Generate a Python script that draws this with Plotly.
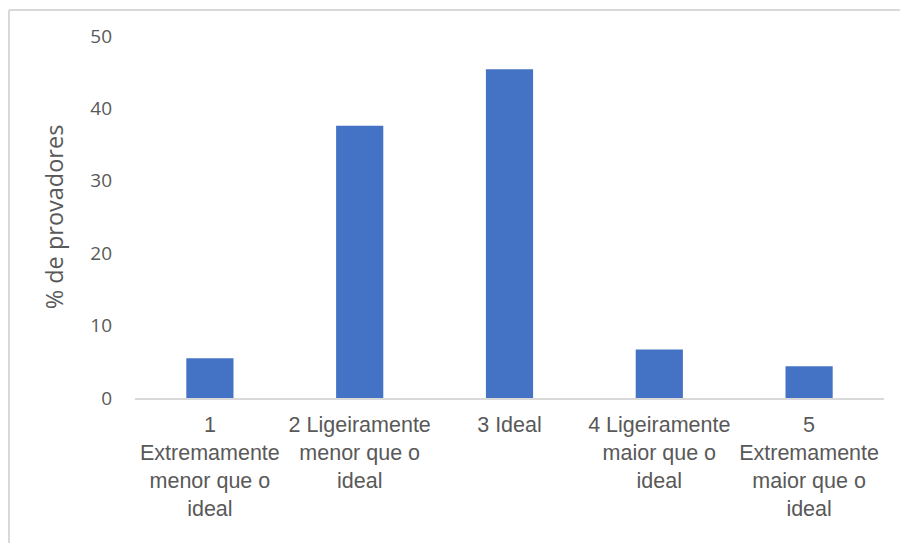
import plotly.graph_objects as go

categories = [
    "1<br>Extremamente<br>menor que o<br>ideal",
    "2 Ligeiramente<br>menor que o<br>ideal",
    "3 Ideal",
    "4 Ligeiramente<br>maior que o<br>ideal",
    "5<br>Extremamente<br>maior que o<br>ideal",
]
values = [5.5, 37.6, 45.4, 6.7, 4.4]
y_ticks = [0, 10, 20, 30, 40, 50]

W, H = 900, 543
ML, MR, MT, MB = 135, 16, 36, 145
pw = W - ML - MR
ph = H - MT - MB

fig = go.Figure(go.Bar(x=categories, y=values, marker=dict(color="#4472C4", line=dict(width=0))))

fig.update_layout(
    width=W, height=H,
    margin=dict(l=ML, r=MR, t=MT, b=MB, pad=0),
    paper_bgcolor="white", plot_bgcolor="white",
    bargap=0.685,
    showlegend=False,
    font=dict(family="Liberation Sans, Arial", color="#595959"),
)
fig.update_xaxes(
    showline=True, linecolor="#d9d9d9", linewidth=2,
    showgrid=False, ticks="",
    tickfont=dict(family="Liberation Sans, Arial", size=21.5, color="#595959"),
    ticklabelstandoff=6,
)
fig.update_yaxes(
    range=[0, 50], tickvals=y_ticks, showgrid=False, zeroline=False,
    showline=False, ticks="",
    tickfont=dict(family="Open Sans, Noto Sans", size=19, color="#595959"),
    ticklabelstandoff=22,
    title=dict(text="% de provadores", font=dict(family="Open Sans, Noto Sans", size=23.5, color="#595959"), standoff=20),
)

# chart-area border (left and top edges visible, rest cropped)
bx0 = (9 - ML) / pw
by1 = 1 + (MT - 10) / ph
fig.add_shape(type="line", xref="paper", yref="paper", x0=bx0, x1=bx0, y0=-2, y1=by1,
              line=dict(color="#d9d9d9", width=2))
fig.add_shape(type="line", xref="paper", yref="paper", x0=bx0, x1=2, y0=by1, y1=by1,
              line=dict(color="#d9d9d9", width=2))

fig.write_html("out.html")
